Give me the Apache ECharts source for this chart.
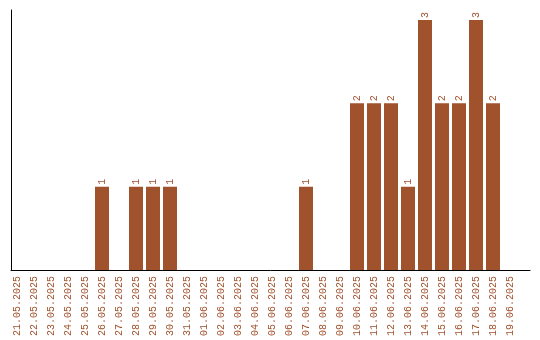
<!DOCTYPE html>
<html><head><meta charset="utf-8">
<script src="https://cdn.jsdelivr.net/npm/echarts@6/dist/echarts.min.js"></script>
<style>html,body{margin:0;padding:0;background:#fff}#c{width:540px;height:340px}</style>
</head><body><div id="c"></div>
<script>
const categories = ["21.05.2025","22.05.2025","23.05.2025","24.05.2025","25.05.2025","26.05.2025","27.05.2025","28.05.2025","29.05.2025","30.05.2025","31.05.2025","01.06.2025","02.06.2025","03.06.2025","04.06.2025","05.06.2025","06.06.2025","07.06.2025","08.06.2025","09.06.2025","10.06.2025","11.06.2025","12.06.2025","13.06.2025","14.06.2025","15.06.2025","16.06.2025","17.06.2025","18.06.2025","19.06.2025"];
const values = [0,0,0,0,0,1,0,1,1,1,0,0,0,0,0,0,0,1,0,0,2,2,2,1,3,2,2,3,2,0];
const color = '#A0522D';
const chart = echarts.init(document.getElementById('c'), null, {renderer:'canvas'});
chart.setOption({
  animation:false,
  grid:[
    {left:8.5,right:21.5,top:10,bottom:70},
    {left:11,right:10,top:10,bottom:70}
  ],
  xAxis:[
    {type:'category',gridIndex:0,data:categories,
     axisLine:{show:false},axisTick:{show:false},
     axisLabel:{interval:0,rotate:90,color:color,fontFamily:'Liberation Mono',fontSize:10,margin:6}},
    {type:'category',gridIndex:1,data:[''],axisLine:{show:true,lineStyle:{color:'#000',width:1}},
     axisTick:{show:false},axisLabel:{show:false}}
  ],
  yAxis:[
    {type:'value',gridIndex:0,min:0,max:3.12,splitLine:{show:false},axisLine:{show:false},axisTick:{show:false},axisLabel:{show:false}},
    {type:'value',gridIndex:1,min:0,max:1,splitLine:{show:false},axisLine:{show:true,lineStyle:{color:'#000',width:1}},axisTick:{show:false},axisLabel:{show:false}}
  ],
  series:[{
    type:'bar',xAxisIndex:0,yAxisIndex:0,
    data:values.map(v=>({value:v,label:{show:v>0}})),
    barWidth:14,
    itemStyle:{color:color},
    label:{show:true,position:'top',rotate:90,align:'left',verticalAlign:'middle',distance:2,
      color:color,fontFamily:'Liberation Mono',fontSize:10}
  }]
});
</script></body></html>
